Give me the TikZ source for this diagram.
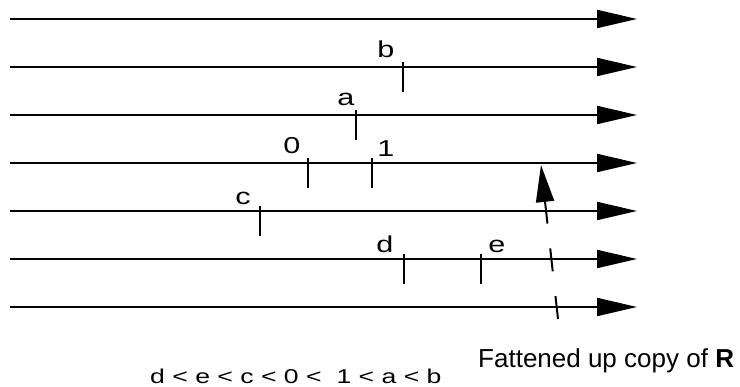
\documentclass[tikz,border=0pt]{standalone}
\usepackage{fontspec}
\setmainfont{Liberation Sans}
\usetikzlibrary{arrows.meta}

\newcommand{\widetext}[1]{\scalebox{1.33}[1]{#1}}

\tikzset{
  axis/.style={line width=2pt, -{Triangle[length=40pt,width=18pt]}},
  tickmark/.style={line width=2pt},
  ptlabel/.style={inner sep=0pt, anchor=base, font=\fontsize{23}{27}\selectfont},
  caption/.style={inner sep=0pt, anchor=base west},
  fatarrow/.style={line width=2pt, dash pattern=on 23pt off 25pt,
                   -{Triangle[length=37pt,width=18pt]}}
}

\begin{document}
\begin{tikzpicture}[x=1pt,y=-1pt]
  \useasboundingbox (0,0) rectangle (740,387);

  % seven parallel copies of the real line
  \foreach \i/\y in {1/19,2/67,3/115,4/163,5/211,6/259,7/307}{
    \coordinate (s\i) at (10,\y);
    \coordinate (e\i) at (637,\y);
    \draw[axis] (s\i) -- (e\i);
  }

  % marked points: name / x / line y (ticks reach a little above, mostly below)
  \foreach \n/\x/\y in {b/403/67, a/356/115, z/308/163, o/372/163,
                        c/260/211, d/404/259, e/481/259}{
    \coordinate (t\n) at (\x,\y);
    \draw[tickmark] ([yshift=5pt]t\n) -- ([yshift=-25pt]t\n);
  }

  % labels of the marked points
  \node[ptlabel] (lb) at (386,58)  {\widetext{b}};
  \node[ptlabel] (la) at (346,106) {\widetext{a}};
  \node[ptlabel] (lz) at (292,154) {\widetext{0}};
  \node[ptlabel] (lo) at (386,157) {\widetext{1}};
  \node[ptlabel] (lc) at (243,205) {\widetext{c}};
  \node[ptlabel] (ld) at (385,253) {\widetext{d}};
  \node[ptlabel] (le) at (497,253) {\widetext{e}};

  % dashed arrow crossing the copies
  \coordinate (f0) at (558,319);
  \coordinate (f1) at (541,165);
  \draw[fatarrow] (f0) -- (f1);

  % captions
  \node[caption, font=\fontsize{26}{30}\selectfont] (cap) at (478,368)
    {Fattened up copy of \textbf{R}};
  \node[caption, font=\fontsize{20}{24}\selectfont] (ord) at (150,384)
    {\widetext{d < e < c < 0 < \ 1 < a < b}};
\end{tikzpicture}
\end{document}
